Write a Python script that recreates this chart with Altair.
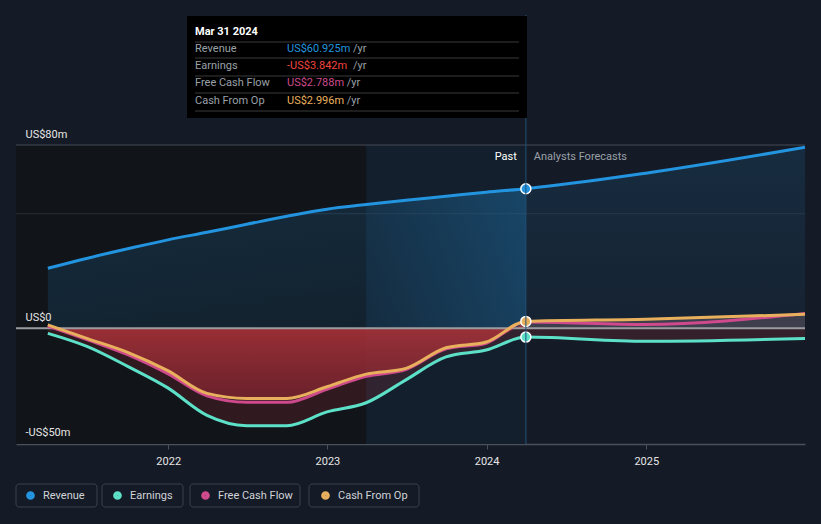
import altair as alt
import pandas as pd

# ---------------- data ----------------
series_names = ["Revenue", "Earnings", "Free Cash Flow", "Cash From Op"]
series_colors = ["#2394df", "#5de0c8", "#cf4a8c", "#e8b05c"]

dates = ["2021-03-31", "2021-06-30", "2021-09-30", "2021-12-31",
         "2022-03-31", "2022-06-30", "2022-09-30", "2022-12-31",
         "2023-03-31", "2023-06-30", "2023-09-30", "2023-12-31",
         "2024-03-31", "2024-12-31", "2025-12-31"]
n_past = 13  # first 13 dates are reported, the rest are analyst forecasts

revenue = [26.2, 30.6, 34.7, 38.6, 41.9, 45.4, 48.9, 52.0, 54.0, 55.9, 57.6, 59.4, 60.925, 67.7, 79.0]
earnings = [-2.2, -8.0, -16.6, -26.0, -38.0, -42.5, -42.5, -36.5, -32.5, -22.5, -12.5, -9.5, -3.842, -5.7, -4.4]
free_cash_flow = [1.0, -5.0, -11.5, -19.8, -29.5, -32.3, -32.3, -26.6, -21.0, -18.0, -9.0, -6.5, 2.788, 1.7, 6.5]
cash_from_op = [1.5, -4.5, -10.5, -18.5, -28.4, -30.6, -30.6, -25.5, -20.0, -17.5, -8.5, -6.0, 2.996, 3.9, 6.1]

y_tick_values = [80, 0, -50]
y_tick_labels = ["US$80m", "US$0", "-US$50m"]
grid_values = [80, 50]
x_years = [2022, 2023, 2024, 2025]
x_domain = ["2021-01-17", "2025-12-31"]
highlight_start = "2023-03-31"
tooltip_title = "Mar 31 2024"

# ---------------- tables ----------------
values_by_series = [revenue, earnings, free_cash_flow, cash_from_op]
long_rows = []
for name, vals in zip(series_names, values_by_series):
    for d, v in zip(dates, vals):
        long_rows.append({"date": d, "series": name, "value": v})
long_df = pd.DataFrame(long_rows)
wide_df = pd.DataFrame({"date": dates, "revenue": revenue, "earnings": earnings,
                        "fcf": free_cash_flow, "cfo": cash_from_op})
past_df = wide_df.iloc[:n_past]
fore_df = wide_df.iloc[n_past - 1:]
last_date = dates[n_past - 1]
last_df = long_df[long_df["date"] == last_date]

W, H = 789, 299
BG = "#151b26"

x_scale = alt.Scale(type="utc", domain=[alt.DateTime(year=2021, month=1, date=17, utc=True),
                                       alt.DateTime(year=2025, month=12, date=31, utc=True)])
y_scale = alt.Scale(domain=[-50.5, 80], nice=False, zero=False)
color_scale = alt.Scale(domain=series_names, range=series_colors)

label_expr = "{" + ",".join(f"'{v}':'{l}'" for v, l in zip(y_tick_values, y_tick_labels)) + "}[datum.value]"

X_AXIS = alt.Axis(values=[alt.DateTime(year=y, month=1, date=1, utc=True) for y in x_years],
                  format="%Y", grid=False, domainColor="#4b515a", domainWidth=1.5,
                  tickColor="#4b515a", tickSize=5, labelColor="#e6e6e6",
                  labelFontSize=11, labelPadding=6, title=None, labelFont="Roboto")
Y_AXIS = alt.Axis(values=y_tick_values, labelExpr=label_expr, grid=False,
                  domain=False, ticks=False, labelAlign="left", labelPadding=-9,
                  labelBaseline="alphabetic", labelOffset=-7.5, labelColor="#e6e6e6",
                  labelFontSize=11, title=None, labelFont="Roboto", zindex=1,
                  labelOverlap=False, labelBound=False, labelFlush=False)


def X(field):
    return alt.X(field, scale=x_scale, axis=X_AXIS, title=None)


def Y(field):
    return alt.Y(field, scale=y_scale, axis=Y_AXIS, title=None)


# regions
region_df = pd.DataFrame({"start": [x_domain[0], highlight_start], "end": [highlight_start, last_date],
                          "kind": ["dark", "highlight"]})
regions = alt.Chart(region_df).mark_rect().encode(
    x=X("start:T"), x2="end:T",
    y=alt.value(0), y2=alt.value(H),
    color=alt.Color("kind:N", scale=alt.Scale(domain=["dark", "highlight"], range=["#111419", "#131f2c"]), legend=None),
)

grid = alt.Chart(pd.DataFrame({"g": grid_values, "c": ["top", "mid"]})).mark_rule(strokeWidth=1).encode(
    y=Y("g:Q"),
    color=alt.Color("c:N", scale=alt.Scale(domain=["top", "mid"], range=["#454b54", "#272d37"]), legend=None),
)

blue_grad = alt.Gradient(gradient="linear", x1=0, x2=0, y1=0, y2=1,
                         stops=[alt.GradientStop(color="rgba(35,148,223,0.14)", offset=0),
                                alt.GradientStop(color="rgba(35,148,223,0.06)", offset=1)])
rev_area = alt.Chart(wide_df).mark_area(interpolate="monotone", color=blue_grad).encode(
    x=X("date:T"), y=Y("revenue:Q"), y2=alt.datum(0))

past_blue = alt.Gradient(gradient="linear", x1=0, x2=1, y1=0, y2=0,
                         stops=[alt.GradientStop(color="rgba(35,148,223,0.07)", offset=0),
                                alt.GradientStop(color="rgba(35,148,223,0.05)", offset=0.66),
                                alt.GradientStop(color="rgba(35,148,223,0.24)", offset=1)])
rev_area_past = alt.Chart(past_df).mark_area(interpolate="monotone", color=past_blue).encode(
    x=X("date:T"), y=Y("revenue:Q"), y2=alt.datum(0))

earn_area = alt.Chart(wide_df).mark_area(interpolate="monotone", color="#d23c48", opacity=0.16).encode(
    x=X("date:T"), y=Y("earnings:Q"), y2=alt.datum(0))

red_grad = alt.Gradient(gradient="linear", x1=0, x2=0, y1=0, y2=1,
                        stops=[alt.GradientStop(color="rgba(178,52,58,0.85)", offset=0),
                               alt.GradientStop(color="rgba(130,36,48,0.72)", offset=1)])
cf_area_past = alt.Chart(past_df).mark_area(interpolate="monotone", color=red_grad).encode(
    x=X("date:T"), y=Y("cfo:Q"), y2=alt.datum(0))
cf_area_fore = alt.Chart(fore_df).mark_area(interpolate="monotone", color="#9a8090", opacity=0.3).encode(
    x=X("date:T"), y=Y("cfo:Q"), y2=alt.datum(0))

zero_line = alt.Chart(pd.DataFrame({"z": [0]})).mark_rule(color="#9b9ca0", strokeWidth=2).encode(
    y=Y("z:Q"))

lines = alt.Chart(long_df).mark_line(interpolate="monotone", strokeWidth=3).encode(
    x=X("date:T"), y=Y("value:Q"),
    color=alt.Color("series:N", scale=color_scale, sort=series_names,
                    legend=alt.Legend(orient="none", legendX=9, legendY=345, direction="horizontal",
                                      columns=4, title=None, symbolType="circle", symbolSize=22,
                                      symbolStrokeWidth=4, labelColor="#d0d3d8", labelFontSize=11,
                                      labelFont="Roboto", columnPadding=22, labelOffset=7,
                                      gridAlign="none")),
    order=alt.Order("series_order:Q"),
).transform_calculate(series_order="indexof(%s, datum.series)" % str(series_names))

pts_df = last_df[last_df["series"] != "Free Cash Flow"]
points = alt.Chart(pts_df).mark_point(filled=True, size=100, stroke="white", strokeWidth=1.5, opacity=1).encode(
    x=X("date:T"), y=Y("value:Q"),
    fill=alt.Fill("series:N", scale=color_scale, legend=None))

vrule = alt.Chart(pd.DataFrame({"date": [last_date]})).mark_rule(color="#1f5078", strokeWidth=1).encode(
    x=X("date:T"), y=alt.value(-130), y2=alt.value(H))

past_lbl = alt.Chart(pd.DataFrame({"date": [last_date], "t": ["Past"]})).mark_text(
    align="right", dx=-9, fontSize=11, color="#ffffff", font="Roboto").encode(
    x=X("date:T"), y=alt.value(12), text="t:N")
fore_lbl = alt.Chart(pd.DataFrame({"date": [last_date], "t": ["Analysts Forecasts"]})).mark_text(
    align="left", dx=8, fontSize=11, color="#9aa0a8", font="Roboto").encode(
    x=X("date:T"), y=alt.value(12), text="t:N")

# tooltip box
tip_layers = [
    alt.Chart(pd.DataFrame({"a": [0]})).mark_rect(color="#000000").encode(
        x=alt.value(171), x2=alt.value(511), y=alt.value(-129), y2=alt.value(-27)),
    alt.Chart(pd.DataFrame({"t": [tooltip_title]})).mark_text(
        align="left", baseline="alphabetic", fontSize=11, fontWeight="bold", color="#ffffff", font="Roboto").encode(
        x=alt.value(179), y=alt.value(-110), text="t:N"),
]
for sep_y in [-103, -87, -69, -52, -34]:
    tip_layers.append(alt.Chart(pd.DataFrame({"a": [0]})).mark_rule(color="#3a3a3a", strokeWidth=1).encode(
        x=alt.value(179), x2=alt.value(503), y=alt.value(sep_y)))


def fmt(v):
    s = f"US${abs(v):.3f}m"
    return "-" + s if v < 0 else s


row_ys = [-96, -79, -62, -44]
for name, vals, col, ry in zip(series_names, values_by_series, series_colors, row_ys):
    val_txt = fmt(vals[n_past - 1])
    vcol = "#f0453f" if name == "Earnings" else col
    tip_layers.append(alt.Chart(pd.DataFrame({"t": [name]})).mark_text(
        align="left", fontSize=11, color="#9aa0a8", font="Roboto").encode(
        x=alt.value(179), y=alt.value(ry), text="t:N"))
    tip_layers.append(alt.Chart(pd.DataFrame({"t": [val_txt]})).mark_text(
        align="left", fontSize=11, color=vcol, font="Roboto").encode(
        x=alt.value(271), y=alt.value(ry), text="t:N"))
    tip_layers.append(alt.Chart(pd.DataFrame({"t": ["/yr"]})).mark_text(
        align="left", fontSize=11, color="#9aa0a8", font="Roboto").encode(
        x=alt.value(271 + len(val_txt) * 6.2 + 4), y=alt.value(ry), text="t:N"))

# legend boxes
box_layers = []
for x0, x1 in [(0, 81), (86, 167), (174, 284), (293, 403)]:
    box_layers.append(alt.Chart(pd.DataFrame({"a": [0]})).mark_rect(
        fill=BG, stroke="#3c424c", strokeWidth=1, cornerRadius=3).encode(
        x=alt.value(x0), x2=alt.value(x1), y=alt.value(339), y2=alt.value(362)))

chart = alt.layer(
    regions, grid, rev_area, rev_area_past, earn_area, cf_area_past, cf_area_fore, zero_line,
    *box_layers, lines, points, vrule, past_lbl, fore_lbl, *tip_layers
).resolve_scale(color="independent", fill="independent").properties(
    width=W, height=H, background=BG,
    padding={"left": 16, "top": 145, "right": 16, "bottom": 80},
    autosize=alt.AutoSizeParams(type="none"),
).configure_view(stroke=None)

chart.save("out.html", embed_options={"renderer": "svg", "actions": False})
